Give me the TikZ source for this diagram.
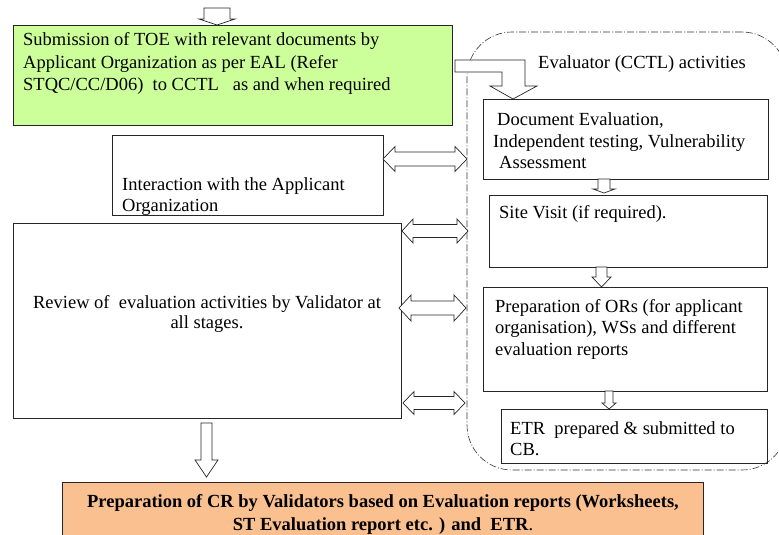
\documentclass[tikz,border=0pt]{standalone}
\usepackage{fontspec}
\setmainfont{Liberation Serif}
\usetikzlibrary{calc}
\definecolor{greenfill}{HTML}{CCFF99}
\definecolor{orangefill}{HTML}{FAC090}
\tikzset{
  box/.style={draw=black!85, line width=0.9pt, anchor=north west, inner sep=0pt, outer sep=0pt},
  txt/.style={inner sep=0pt, anchor=base west, font=\fontsize{18.5}{22}\selectfont},
  ctxt/.style={inner sep=0pt, anchor=base, font=\fontsize{18.5}{22}\selectfont},
  blk/.style={draw=black!85, fill=white, line width=0.7pt, line join=miter},
  region/.style={draw=black!80, line width=0.6pt, dash pattern=on 7pt off 2pt on 1pt off 2pt,
    rounded corners=45pt, anchor=north west, inner sep=0pt, outer sep=0pt}
}
% down block arrow: x, from, to, shaft half width, head half width, head length
\newcommand\dnblk[6]{%
  \draw[blk] let \p1=(#2), \p2=(#3) in
  ({(#1-#4)*1pt},\y1) -- ({(#1+#4)*1pt},\y1) -- ({(#1+#4)*1pt},{\y2+#6pt}) --
  ({(#1+#5)*1pt},{\y2+#6pt}) -- ({#1*1pt},\y2) -- ({(#1-#5)*1pt},{\y2+#6pt}) --
  ({(#1-#4)*1pt},{\y2+#6pt}) -- cycle;}
% left-right double block arrow: y, from, to, shaft half width, head half width, head length
\newcommand\lrblk[6]{%
  \draw[blk] let \p1=(#2), \p2=(#3) in
  (\x1,{-#1pt}) -- ({\x1+#6pt},{-#1pt+#5pt}) -- ({\x1+#6pt},{-#1pt+#4pt}) --
  ({\x2-#6pt},{-#1pt+#4pt}) -- ({\x2-#6pt},{-#1pt+#5pt}) -- (\x2,{-#1pt}) --
  ({\x2-#6pt},{-#1pt-#5pt}) -- ({\x2-#6pt},{-#1pt-#4pt}) -- ({\x1+#6pt},{-#1pt-#4pt}) --
  ({\x1+#6pt},{-#1pt-#5pt}) -- cycle;}
\begin{document}
\begin{tikzpicture}[x=1pt,y=-1pt]
\useasboundingbox (0,0) rectangle (779,535);
\clip (0,0) rectangle (779,535);
\fill[white] (0,0) rectangle (779,535);

% evaluator region
\node[region, minimum width=320pt, minimum height=438pt] (evalreg) at (467,32) {};

% boxes
\node[box, fill=greenfill, minimum width=439pt, minimum height=100pt] (green) at (13,25) {};
\node[box, minimum width=271pt, minimum height=80pt] (interact) at (112,135) {};
\node[box, minimum width=388pt, minimum height=195pt] (review) at (13,223) {};
\node[box, fill=orangefill, minimum width=641pt, minimum height=60pt] (orange) at (62,482) {};
\node[box, minimum width=285pt, minimum height=80pt] (doc) at (483,99) {};
\node[box, minimum width=278pt, minimum height=72pt] (site) at (489,195) {};
\node[box, minimum width=284pt, minimum height=104pt] (prep) at (483,287) {};
\node[box, minimum width=266pt, minimum height=54pt] (etr) at (501,409) {};

% texts
\node[txt] (g1) at (23,46) {Submission of TOE with relevant documents by};
\node[txt] (g2) at (23,68) {Applicant Organization as per EAL (Refer};
\node[txt] (g3) at (23,90) {STQC/CC/D06)\ \ to CCTL\ \ \ as and when required};
\node[txt] (ev) at (538,69) {Evaluator (CCTL) activities};
\node[txt] (d1) at (497,125) {Document Evaluation,};
\node[txt] (d2) at (493,147) {Independent testing, Vulnerability};
\node[txt] (d3) at (499,168) {Assessment};
\node[txt] (s1) at (499,218) {Site Visit (if required).};
\node[txt] (p1) at (495,312) {Preparation of ORs (for applicant};
\node[txt] (p2) at (495,333) {organisation), WSs and different};
\node[txt] (p3) at (495,355) {evaluation reports};
\node[txt] (e1) at (510,434) {ETR\ \ prepared \& submitted to};
\node[txt] (e2) at (510,455) {CB.};
\node[txt] (i1) at (122,190) {Interaction with the Applicant};
\node[txt] (i2) at (122,211) {Organization};
\node[ctxt] (r1) at (207,308) {Review of\ \ evaluation activities by Validator at};
\node[ctxt] (r2) at (207,328) {all stages.};
\node[ctxt] (o1) at (383,507) {\bfseries Preparation of CR by Validators based on Evaluation reports (Worksheets,};
\node[ctxt] (o2) at (383,530) {{\bfseries ST Evaluation report etc. ) and\ \ ETR}.};

% top incoming arrow
\coordinate (topin) at (217,8);
\draw[blk] let \p1=(topin), \p2=(green.north) in
  ({\x1-13pt},\y1) -- ({\x1+13pt},\y1) -- ({\x1+13pt},{\y2+6pt}) -- ({\x1+18pt},{\y2+6pt}) --
  (\x1,\y2) -- ({\x1-18pt},{\y2+6pt}) -- ({\x1-13pt},{\y2+6pt}) -- cycle;

% bent arrow green -> doc
\draw[blk] let \p1=(green.east), \p2=(doc.north) in
  ({\x1+3pt},-60pt) -- (525pt,-60pt) -- (525pt,-86pt) -- (537pt,-86pt) -- (513pt,\y2) --
  (490pt,-86pt) -- (502pt,-86pt) -- (502pt,-72pt) -- ({\x1+3pt},-72pt) -- cycle;

% vertical arrows in evaluator column
\dnblk{604}{doc.south}{$(site.north)+(0,-2)$}{6}{11}{4}
\dnblk{601.5}{site.south}{prep.north}{5.5}{9.5}{10}
\dnblk{609}{prep.south}{etr.north}{4}{7}{6}

% bottom arrow review -> orange
\dnblk{206.5}{$(review.south)+(0,5)$}{$(orange.north)+(0,-5)$}{5.5}{11.5}{17}

% double arrows
\lrblk{159}{interact.east}{evalreg.west}{7}{12.5}{12}
\lrblk{231}{$(review.east)+(1,0)$}{$(evalreg.west)+(1,0)$}{6.5}{12}{11}
\lrblk{308}{$(review.east)+(-2,0)$}{$(evalreg.west)+(-1,0)$}{7}{13}{12}
\lrblk{403}{$(review.east)+(2,0)$}{$(evalreg.west)+(-2,0)$}{6.5}{11.5}{11}
\end{tikzpicture}
\end{document}
